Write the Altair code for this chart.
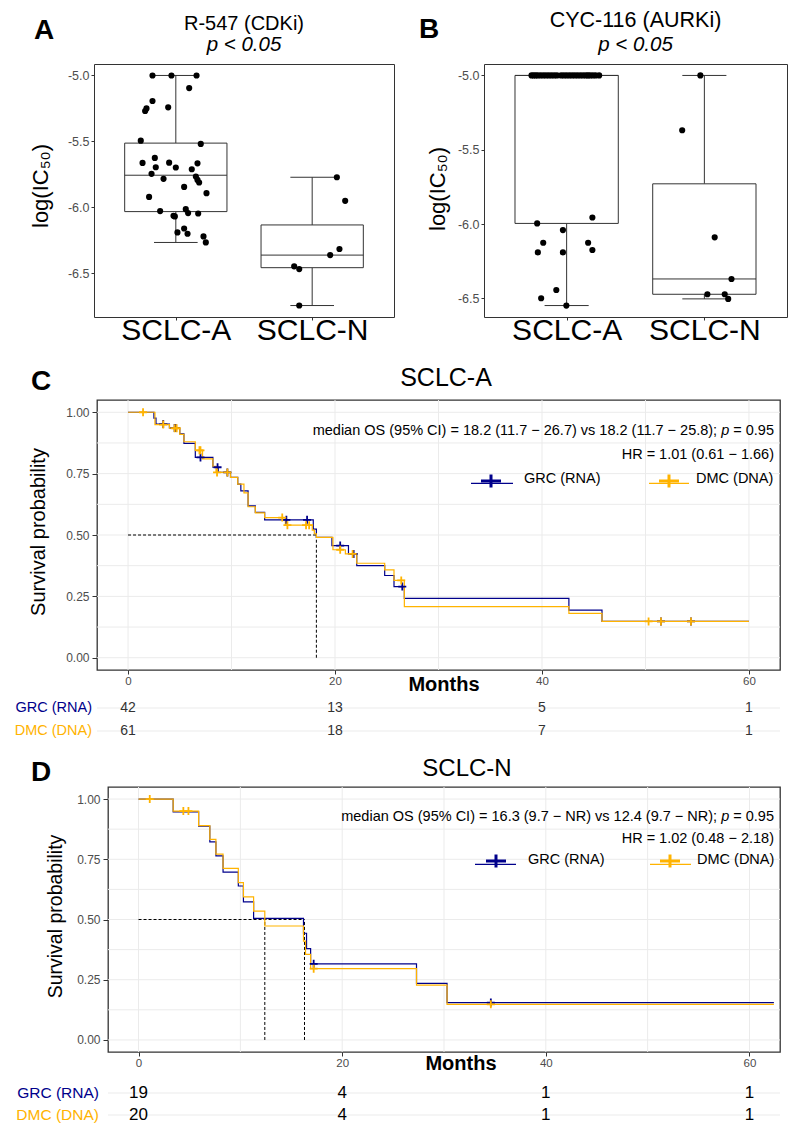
import altair as alt
import pandas as pd

FONT = "Liberation Sans"
BLUE = "#00008B"
ORANGE = "#FFB300"
GRID = "#EBEBEB"
FRAME = "#333333"
TICK_TEXT = "#4D4D4D"
CROSS = "M-1,0L1,0M0,-1L0,1"
LEG_CROSS = "M-1.3,0L1.3,0M0,-0.85L0,0.85"

# ---------------- Panel A : R-547 (CDKi) ----------------
A_TITLE = "R-547 (CDKi)"
A_SCLC_A = [-5.0, -5.0, -5.0, -5.096, -5.194, -5.25, -5.27, -5.242, -5.495, -5.52,
            -5.664, -5.626, -5.697, -5.662, -5.699, -5.667, -5.712, -5.747, -5.785, -5.768,
            -5.793, -5.813, -5.846, -5.894, -5.922, -6.03, -6.066, -6.07, -6.015, -6.045,
            -6.048, -6.192, -6.162, -6.202, -6.222, -6.268]
A_SCLC_A_JIT = [-0.171, -0.032, 0.152, 0.098, -0.171, -0.215, -0.225, -0.056, -0.257, 0.183,
                -0.244, -0.154, -0.147, -0.049, 0.0, 0.159, 0.117, -0.178, -0.09, 0.147,
                0.159, 0.171, 0.061, 0.225, -0.196, -0.115, -0.017, -0.007, 0.073, 0.09,
                0.164, 0.012, 0.061, 0.086, 0.203, 0.22]
A_SCLC_N = [-5.773, -5.952, -6.318, -6.364, -6.449, -6.47, -6.747]
A_SCLC_N_JIT = [0.181, 0.242, 0.2, 0.132, -0.132, -0.095, -0.095]

# ---------------- Panel B : CYC-116 (AURKi) ----------------
B_TITLE = "CYC-116 (AURKi)"
B_SCLC_A = [-5.0] * 26 + [-5.996, -5.956, -6.126, -6.041, -6.191, -6.191, -6.126, -6.175,
                          -6.444, -6.5, -6.549]
B_SCLC_A_JIT = [-0.255, -0.24, -0.225, -0.21, -0.19, -0.17, -0.15, -0.13, -0.11, -0.09,
                -0.07, -0.04, -0.02, 0.0, 0.02, 0.04, 0.06, 0.08, 0.1, 0.12,
                0.14, 0.155, 0.17, 0.19, 0.21, 0.236,
                -0.214, 0.187, -0.17, -0.027, -0.209, -0.027, 0.156, 0.187, -0.075, -0.185, -0.002]
B_SCLC_N = [-5.0, -5.369, -6.09, -6.37, -6.473, -6.473, -6.504]
B_SCLC_N_JIT = [-0.029, -0.161, 0.075, 0.197, 0.022, 0.148, 0.173]

GROUP_LABELS = ["SCLC-A", "SCLC-N"]
BOX_Y_TICKS = [-6.5, -6.0, -5.5, -5.0]

# ---------------- Panel C : SCLC-A survival ----------------
C_GRC_TIME = [0, 2.5, 2.7, 4.0, 5.0, 5.4, 6.5, 8.2, 8.7, 9.9, 10.6, 10.9, 11.6, 12.3, 13.2,
              17.9, 18.2, 19.7, 21.3, 22.1, 24.8, 25.7, 26.7, 42.6, 45.8, 60.0]
C_GRC_SURV = [1.0, 0.976, 0.952, 0.936, 0.912, 0.873, 0.816, 0.776, 0.755, 0.735, 0.707, 0.68,
              0.619, 0.592, 0.562, 0.524, 0.49, 0.457, 0.423, 0.375, 0.335, 0.29, 0.242, 0.194,
              0.148, 0.148]
C_GRC_CENS_TIME = [3.4, 4.5, 4.6, 7.0, 8.65, 9.6, 15.3, 17.3, 20.5, 21.8, 26.5, 51.5, 54.4]
C_GRC_CENS_SURV = [0.952, 0.936, 0.936, 0.816, 0.776, 0.755, 0.562, 0.562, 0.457, 0.423, 0.29,
                   0.148, 0.148]
C_DMC_TIME = [0, 2.6, 4.0, 5.0, 5.4, 6.5, 7.2, 8.2, 8.5, 9.9, 10.6, 11.2, 11.6, 12.3, 13.2,
              15.2, 17.8, 18.0, 18.2, 19.8, 21.0, 22.1, 24.8, 25.7, 26.7, 42.6, 45.8, 60.0]
C_DMC_SURV = [1.0, 0.95, 0.935, 0.91, 0.88, 0.845, 0.81, 0.78, 0.755, 0.735, 0.707, 0.672,
              0.615, 0.59, 0.571, 0.54, 0.52, 0.505, 0.49, 0.44, 0.423, 0.385, 0.358, 0.315,
              0.208, 0.181, 0.148, 0.148]
C_DMC_CENS_TIME = [1.45, 3.4, 4.5, 4.7, 6.9, 7.0, 8.6, 9.6, 14.9, 15.4, 17.2, 17.5, 20.5, 21.7,
                   26.4, 50.3, 51.5, 54.4]
C_DMC_CENS_SURV = [1.0, 0.95, 0.935, 0.935, 0.845, 0.845, 0.755, 0.755, 0.571, 0.54, 0.54, 0.54,
                   0.44, 0.423, 0.315, 0.148, 0.148, 0.148]
C_MEDIANS = [18.2]
C_MEDIAN_TEXT = "median OS (95% CI) = 18.2 (11.7 \u2212 26.7) vs 18.2 (11.7 \u2212 25.8);"
C_HR_TEXT = "HR = 1.01 (0.61 \u2212 1.66)"
C_RISK_GRC = [42, 13, 5, 1]
C_RISK_DMC = [61, 18, 7, 1]

# ---------------- Panel D : SCLC-N survival ----------------
D_GRC_TIME = [0, 3.4, 5.9, 7.0, 7.6, 8.3, 9.8, 10.3, 11.3, 16.2, 16.5, 16.9, 27.3, 30.3, 62.4]
D_GRC_SURV = [1.0, 0.947, 0.888, 0.822, 0.764, 0.697, 0.639, 0.573, 0.505, 0.443, 0.379, 0.316,
              0.235, 0.155, 0.155]
D_GRC_CENS_TIME = [17.2, 34.6]
D_GRC_CENS_SURV = [0.316, 0.155]
D_DMC_TIME = [0, 3.4, 5.9, 7.0, 7.6, 8.3, 9.8, 10.3, 11.3, 12.4, 16.2, 16.4, 16.9, 27.3, 30.3, 62.4]
D_DMC_SURV = [1.0, 0.95, 0.89, 0.833, 0.771, 0.712, 0.653, 0.594, 0.535, 0.473, 0.41, 0.355,
              0.296, 0.228, 0.148, 0.148]
D_DMC_CENS_TIME = [1.1, 4.4, 4.9, 17.2, 34.6]
D_DMC_CENS_SURV = [1.0, 0.95, 0.95, 0.296, 0.148]
D_MEDIANS = [16.3, 12.4]
D_MEDIAN_TEXT = "median OS (95% CI) = 16.3 (9.7 \u2212 NR) vs 12.4 (9.7 \u2212 NR);"
D_HR_TEXT = "HR = 1.02 (0.48 \u2212 2.18)"
D_RISK_GRC = [19, 4, 1, 1]
D_RISK_DMC = [20, 4, 1, 1]

RISK_TIMES = [0, 20, 40, 60]
KM_X_TICKS = [0, 20, 40, 60]
KM_Y_TICKS = [0, 0.25, 0.5, 0.75, 1.0]
KM_GRID_X = [0, 10, 20, 30, 40, 50, 60]
KM_GRID_Y = [0, 0.125, 0.25, 0.375, 0.5, 0.625, 0.75, 0.875, 1.0]
SERIES = ["GRC (RNA)", "DMC (DNA)"]

ONE = pd.DataFrame({"k": [0]})


def txt(s, x, y, size, color="black", align="left", baseline="alphabetic",
        weight="normal", style="normal", angle=0):
    return alt.Chart(ONE).mark_text(
        text=s, font=FONT, fontSize=size, color=color, align=align, baseline=baseline,
        fontWeight=weight, fontStyle=style, angle=angle
    ).encode(x=alt.value(x), y=alt.value(y))


def anchor(x, y):
    return alt.Chart(ONE).mark_rule(color="white", strokeWidth=1).encode(
        x=alt.value(x), x2=alt.value(x + 1), y=alt.value(y), y2=alt.value(y + 1))


def blank(w, h):
    return alt.Chart(ONE).mark_point(opacity=0, size=1).encode(
        x=alt.value(0), y=alt.value(0)
    ).properties(width=w, height=h, view=alt.ViewBackground(stroke="transparent"))


def box_panel(W, H, ydom, a_vals, a_jit, n_vals, n_jit, title, L, extra=None):
    df = pd.DataFrame({
        "grp": [1] * len(a_vals) + [2] * len(n_vals),
        "val": a_vals + n_vals,
        "jit": a_jit + n_jit,
    })
    xs = alt.Scale(domain=[0.4, 2.6], nice=False, zero=False)
    ys = alt.Scale(domain=ydom, nice=False, zero=False)
    xax = alt.Axis(values=[1, 2],
                   labelExpr="datum.value == 1 ? '%s' : '%s'" % tuple(GROUP_LABELS),
                   grid=False, domain=False, tickSize=3, tickColor=FRAME,
                   labelFontSize=30, labelColor="black", labelFont=FONT,
                   labelBaseline="alphabetic", labelPadding=L["xlab_pad"], title=None)
    yax = alt.Axis(values=BOX_Y_TICKS,
                   labelExpr="replace(format(datum.value, '.1f'), '\u2212', '-')",
                   grid=False, domain=False, tickSize=3, tickColor=FRAME,
                   labelFontSize=12.5, labelColor=TICK_TEXT, labelFont=FONT,
                   labelPadding=2, title=None)

    def X(f):
        return alt.X(f, type="quantitative", scale=xs, axis=xax)

    def Y(f):
        return alt.Y(f, type="quantitative", scale=ys, axis=yax)

    base = alt.Chart(df)
    stats = base.transform_aggregate(
        q1="q1(val)", med="median(val)", q3="q3(val)", groupby=["grp"]
    ).transform_calculate(lo="datum.grp - 0.375", hi="datum.grp + 0.375")
    whisk = base.transform_joinaggregate(
        q1="q1(val)", q3="q3(val)", groupby=["grp"]
    ).transform_filter(
        "datum.val >= datum.q1 - 1.5 * (datum.q3 - datum.q1) && "
        "datum.val <= datum.q3 + 1.5 * (datum.q3 - datum.q1)"
    ).transform_aggregate(
        wmin="min(val)", wmax="max(val)", q1="min(q1)", q3="max(q3)", groupby=["grp"]
    ).transform_calculate(cl="datum.grp - 0.16", cr="datum.grp + 0.16")

    w_lo = whisk.mark_rule(color=FRAME, strokeWidth=1).encode(
        x=X("grp"), y=Y("wmin"), y2=alt.Y2("q1"))
    w_hi = whisk.mark_rule(color=FRAME, strokeWidth=1).encode(
        x=X("grp"), y=Y("q3"), y2=alt.Y2("wmax"))
    cap_lo = whisk.mark_rule(color=FRAME, strokeWidth=1).encode(
        x=X("cl"), x2=alt.X2("cr"), y=Y("wmin"))
    cap_hi = whisk.mark_rule(color=FRAME, strokeWidth=1).encode(
        x=X("cl"), x2=alt.X2("cr"), y=Y("wmax"))
    box = stats.mark_rect(fill="white", stroke=FRAME, strokeWidth=1).encode(
        x=X("lo"), x2=alt.X2("hi"), y=Y("q1"), y2=alt.Y2("q3"))
    med = stats.mark_rule(color=FRAME, strokeWidth=1).encode(
        x=X("lo"), x2=alt.X2("hi"), y=Y("med"))
    pts = base.transform_calculate(xp="datum.grp + datum.jit").mark_circle(
        size=38, color="black", opacity=1).encode(x=X("xp"), y=Y("val"))

    layers = [w_lo, w_hi, box, med, cap_lo, cap_hi, pts,
              txt(title, W / 2, L["title_y"], L["title_size"], align="center"),
              txt("p < 0.05", W / 2, L["p_y"], L["p_size"], align="center", style="italic"),
              txt(L["letter"], L["letter_x"], L["letter_y"], 28, weight="bold"),
              txt("log(IC\u2085\u2080)", L["ytitle_x"], L["ytitle_y"], 22, align="center",
                  baseline="middle", angle=270)]
    if extra:
        layers += extra
    return alt.layer(*layers).properties(
        width=W, height=H, view=alt.ViewBackground(stroke=FRAME, strokeWidth=1))


def km_panel(W, H, grc, dmc, grc_c, dmc_c, medians, risk_grc, risk_dmc,
             title, median_text, hr_text, L):
    xs = alt.Scale(domain=[-3, 63], nice=False, zero=False)
    ys = alt.Scale(domain=[-0.05, 1.05], nice=False, zero=False)
    xax = alt.Axis(values=KM_X_TICKS, grid=False, domain=False, tickSize=4, tickColor=FRAME,
                   labelColor=TICK_TEXT, labelFontSize=11.5, labelFont=FONT, labelPadding=1,
                   title=None)
    yax = alt.Axis(values=KM_Y_TICKS, format=".2f", grid=False, domain=False, tickSize=5,
                   tickColor=FRAME, labelColor=TICK_TEXT, labelFontSize=12, labelFont=FONT,
                   labelPadding=3, title=None)

    def X(f):
        return alt.X(f, type="quantitative", scale=xs, axis=xax)

    def Y(f):
        return alt.Y(f, type="quantitative", scale=ys, axis=yax)

    gx = alt.Chart(pd.DataFrame({"g": KM_GRID_X})).mark_rule(
        color=GRID, strokeWidth=1).encode(x=X("g"))
    gy = alt.Chart(pd.DataFrame({"g": KM_GRID_Y})).mark_rule(
        color=GRID, strokeWidth=1).encode(y=Y("g"))

    med_df = pd.DataFrame({"m": medians})
    med_h = alt.Chart(med_df).transform_aggregate(mx="max(m)").transform_calculate(
        z="0", h="0.5").mark_rule(color="black", strokeDash=[3, 2], strokeWidth=1).encode(
        x=X("z"), x2=alt.X2("mx"), y=Y("h"))
    med_v = alt.Chart(med_df).transform_calculate(z="0", h="0.5").mark_rule(
        color="black", strokeDash=[3, 2], strokeWidth=1).encode(
        x=X("m"), y=Y("z"), y2=alt.Y2("h"))

    def curve(t, s, color):
        return alt.Chart(pd.DataFrame({"t": t, "s": s})).mark_line(
            interpolate="step-after", color=color, strokeWidth=1.2).encode(
            x=X("t"), y=Y("s"))

    def cens(t, s, color):
        return alt.Chart(pd.DataFrame({"t": t, "s": s})).mark_point(
            shape=CROSS, filled=False, color=color, size=64, strokeWidth=1.8,
            opacity=1).encode(x=X("t"), y=Y("s"))

    def risk(vals, yrow, color):
        return alt.Chart(pd.DataFrame({"t": RISK_TIMES, "n": vals})).mark_text(
            font=FONT, fontSize=L["risk_size"], color=color, baseline="middle").encode(
            x=X("t"), y=alt.value(yrow), text="n:N")

    def rowline(yrow):
        return alt.Chart(ONE).mark_rule(color=GRID, strokeWidth=1.2).encode(
            x=alt.value(0), x2=alt.value(W), y=alt.value(yrow))

    def leg_line(x1, x2, y, color):
        return alt.Chart(ONE).mark_rule(color=color, strokeWidth=1.2).encode(
            x=alt.value(x1), x2=alt.value(x2), y=alt.value(y))

    def leg_cross(x, y, color):
        return alt.Chart(ONE).mark_point(
            shape=LEG_CROSS, filled=False, color=color, size=237, strokeWidth=3,
            opacity=1).encode(x=alt.value(x), y=alt.value(y))

    R = W - 6
    eq_w = 2.808 * L["ann_size"]
    sp_w = 0.278 * L["ann_size"]
    p_w = 0.556 * L["ann_size"]
    r1, r2 = L["risk_rows"]

    layers = [
        gx, gy, med_h, med_v,
        curve(grc[0], grc[1], BLUE), curve(dmc[0], dmc[1], ORANGE),
        cens(grc_c[0], grc_c[1], BLUE), cens(dmc_c[0], dmc_c[1], ORANGE),
        txt("= 0.95", R, L["med_y"], L["ann_size"], align="right"),
        txt("p", R - eq_w - sp_w, L["med_y"], L["ann_size"], align="right", style="italic"),
        txt(median_text, R - eq_w - 2 * sp_w - p_w, L["med_y"], L["ann_size"], align="right"),
        txt(hr_text, R, L["hr_y"], L["ann_size"], align="right"),
        leg_line(L["leg_b"][0], L["leg_b"][1], L["leg_line_y"], BLUE),
        leg_cross(L["leg_b"][2], L["leg_cross_y"], BLUE),
        txt(SERIES[0], L["leg_b"][3], L["leg_text_y"], L["ann_size"], baseline="middle"),
        leg_line(L["leg_o"][0], L["leg_o"][1], L["leg_line_y"], ORANGE),
        leg_cross(L["leg_o"][2], L["leg_cross_y"], ORANGE),
        txt(SERIES[1], L["leg_o"][3], L["leg_text_y"], L["ann_size"], baseline="middle"),
        txt(title, L["title_x"], L["title_y"], L["title_size"], align="center"),
        txt(L["letter"], L["letter_x"], L["letter_y"], 28, weight="bold"),
        txt("Survival probability", L["ytitle_x"], H / 2 - 3, L["ytitle_size"],
            align="center", baseline="middle", angle=270),
        txt("Months", L["months_x"], H + L["months_dy"], 20, align="center",
            baseline="middle", weight="bold"),
        rowline(H + r1), rowline(H + r2),
        risk(risk_grc, H + r1, L["risk_color"]), risk(risk_dmc, H + r2, L["risk_color"]),
        txt(SERIES[0], L["rlab_x"], H + r1, L["rlab_size"], color=BLUE, align="right",
            baseline="middle"),
        txt(SERIES[1], L["rlab_x"], H + r2, L["rlab_size"], color=ORANGE, align="right",
            baseline="middle"),
    ]
    return alt.layer(*layers).properties(
        width=W, height=H, view=alt.ViewBackground(stroke=FRAME, strokeWidth=1.3))


A_LAYOUT = dict(title_y=-34, title_size=20, p_y=-13, p_size=20.5, letter="A", letter_x=-60,
                letter_y=-25, ytitle_x=-53, ytitle_y=122, xlab_pad=19)
B_LAYOUT = dict(title_y=-37, title_size=21.5, p_y=-13, p_size=20.5, letter="B", letter_x=-65,
                letter_y=-26, ytitle_x=-46, ytitle_y=125, xlab_pad=19.5)

panel_a = box_panel(300, 253, [-6.834, -4.913], A_SCLC_A, A_SCLC_A_JIT, A_SCLC_N,
                    A_SCLC_N_JIT, A_TITLE, A_LAYOUT, extra=[anchor(-85, -55)])
panel_b = box_panel(303, 253, [-6.626, -4.923], B_SCLC_A, B_SCLC_A_JIT, B_SCLC_N,
                    B_SCLC_N_JIT, B_TITLE, B_LAYOUT)

C_LAYOUT = dict(med_y=35, hr_y=59, ann_size=14.5, leg_line_y=83.3, leg_cross_y=81,
                leg_text_y=79, leg_b=(374, 416, 394, 427), leg_o=(552, 592, 572, 599),
                title_x=349, title_y=-14, title_size=25, letter="C", letter_x=-66,
                letter_y=-10, ytitle_x=-58, ytitle_size=20, months_x=347, months_dy=15,
                risk_rows=(38, 61), risk_size=14, risk_color="#333333", rlab_x=-5,
                rlab_size=14.5)
D_LAYOUT = dict(med_y=34, hr_y=56, ann_size=14.5, leg_line_y=77.3, leg_cross_y=74,
                leg_text_y=73.3, leg_b=(367, 408, 388, 420), leg_o=(542, 583, 562, 589),
                title_x=359, title_y=-11, title_size=24, letter="D", letter_x=-77,
                letter_y=-6, ytitle_x=-52, ytitle_size=19.5, months_x=353, months_dy=12,
                risk_rows=(41, 63), risk_size=17, risk_color="black", rlab_x=-9,
                rlab_size=15.5)

panel_c = km_panel(683, 270, (C_GRC_TIME, C_GRC_SURV), (C_DMC_TIME, C_DMC_SURV),
                   (C_GRC_CENS_TIME, C_GRC_CENS_SURV), (C_DMC_CENS_TIME, C_DMC_CENS_SURV),
                   C_MEDIANS, C_RISK_GRC, C_RISK_DMC, "SCLC-A", C_MEDIAN_TEXT, C_HR_TEXT,
                   C_LAYOUT)
panel_d = km_panel(672, 265, (D_GRC_TIME, D_GRC_SURV), (D_DMC_TIME, D_DMC_SURV),
                   (D_GRC_CENS_TIME, D_GRC_CENS_SURV), (D_DMC_CENS_TIME, D_DMC_CENS_SURV),
                   D_MEDIANS, D_RISK_GRC, D_RISK_DMC, "SCLC-N", D_MEDIAN_TEXT, D_HR_TEXT,
                   D_LAYOUT)

# Rows are nested concats (they take no height in a flush layout); the blank
# cells between them set the vertical distance from one row's plot top to the next.
row_ab = alt.hconcat(panel_a, panel_b, spacing=90, bounds="flush")
row_c = alt.hconcat(blank(3, 1), panel_c, spacing=0, bounds="flush")
row_d = alt.hconcat(blank(14, 1), panel_d, spacing=0, bounds="flush")

chart = alt.vconcat(
    row_ab, blank(1, 336), row_c, blank(1, 387), row_d,
    spacing=0, bounds="flush"
).properties(padding=0).configure(font=FONT).configure_view(stroke="transparent")

chart.save("out.html", embed_options={"renderer": "svg", "actions": False})
